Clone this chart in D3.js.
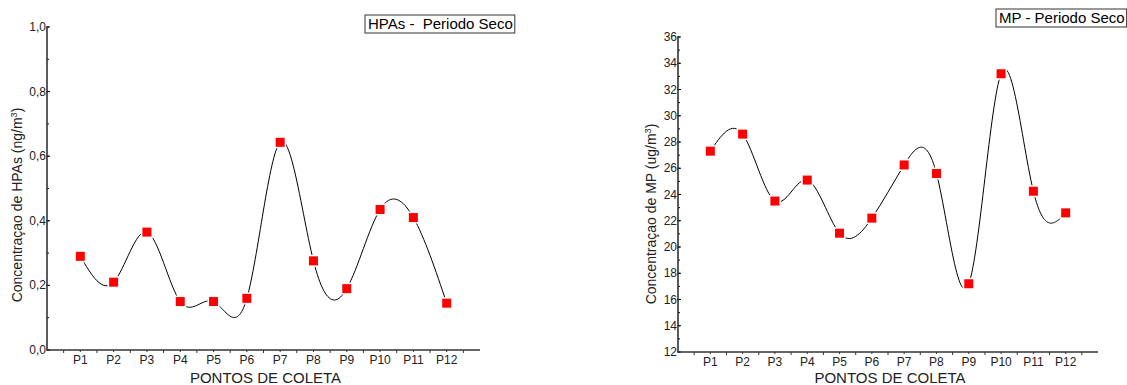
<!DOCTYPE html>
<html>
<head>
<meta charset="utf-8">
<script src="https://cdn.jsdelivr.net/npm/d3@7"></script>
<style>
  html, body { margin: 0; padding: 0; background: #fff; }
  svg { display: block; font-family: "Liberation Sans", Arial, sans-serif; }
</style>
</head>
<body>
<svg id="chart" width="1127" height="385"></svg>
<script>
// Sampling points (shared x categories)
const points = ["P1", "P2", "P3", "P4", "P5", "P6", "P7", "P8", "P9", "P10", "P11", "P12"];

// HPAs concentration, dry period (ng/m³)
const hpaValues = [0.29, 0.21, 0.365, 0.15, 0.15, 0.16, 0.643, 0.276, 0.19, 0.435, 0.41, 0.145];
const hpaTicks = [0, 0.2, 0.4, 0.6, 0.8, 1.0];

// Particulate matter, dry period (ug/m³)
const mpValues = [27.3, 28.6, 23.5, 25.1, 21.05, 22.2, 26.25, 25.6, 17.2, 33.2, 24.25, 22.6];
const mpTicks = [12, 14, 16, 18, 20, 22, 24, 26, 28, 30, 32, 34, 36];

const svg = d3.select("#chart");

function panel(cfg) {
  const g = svg.append("g");
  const x = d3.scaleLinear().domain([0, points.length + 1]).range([cfg.x0, cfg.x1]);
  const y = d3.scaleLinear().domain(cfg.yDomain).range([cfg.yBottom, cfg.yTop]);

  // minor y ticks
  const minorY = d3.range(cfg.yDomain[0], cfg.yDomain[1] + cfg.minorStep / 2, cfg.minorStep);
  g.selectAll(".my").data(minorY).enter().append("line")
    .attr("x1", cfg.x0).attr("x2", cfg.x0 + 2)
    .attr("y1", d => y(d)).attr("y2", d => y(d))
    .attr("stroke", "#000").attr("stroke-width", 1);

  // major y ticks + labels
  g.selectAll(".ty").data(cfg.ticks).enter().append("line")
    .attr("x1", cfg.x0 - 1).attr("x2", cfg.x0 + 3)
    .attr("y1", d => y(d)).attr("y2", d => y(d))
    .attr("stroke", "#000").attr("stroke-width", 1);
  g.selectAll(".ly").data(cfg.ticks).enter().append("text")
    .attr("x", cfg.x0 - 1).attr("y", d => y(d) + 4)
    .attr("text-anchor", "end").attr("font-size", 12).attr("fill", "#222")
    .text(cfg.fmt);

  // x ticks at half-steps
  const xTicks = d3.range(0.5, points.length + 1, 0.5);
  g.selectAll(".tx").data(xTicks).enter().append("line")
    .attr("x1", d => x(d)).attr("x2", d => x(d))
    .attr("y1", cfg.yBottom).attr("y2", d => cfg.yBottom + (Number.isInteger(d) ? 2 : 3))
    .attr("stroke", "#333").attr("stroke-width", 1);
  g.selectAll(".lx").data(points).enter().append("text")
    .attr("x", (d, i) => x(i + 1)).attr("y", cfg.yBottom + 14)
    .attr("text-anchor", "middle").attr("font-size", 12).attr("fill", "#222")
    .text(d => d);

  // axis lines
  g.append("line").attr("x1", cfg.x0).attr("x2", cfg.x0)
    .attr("y1", cfg.yTop).attr("y2", cfg.yBottom)
    .attr("stroke", "#333").attr("stroke-width", 1.6);
  g.append("line").attr("x1", cfg.x0).attr("x2", cfg.x1)
    .attr("y1", cfg.yBottom).attr("y2", cfg.yBottom)
    .attr("stroke", "#333").attr("stroke-width", 1.6);

  // spline through the data
  const line = d3.line()
    .x((d, i) => x(i + 1))
    .y(d => y(d))
    .curve(d3.curveNatural);
  g.append("path").datum(cfg.values)
    .attr("d", line)
    .attr("fill", "none").attr("stroke", "#000").attr("stroke-width", 1);

  // markers with a white gap around them
  g.selectAll(".mk").data(cfg.values).enter().append("rect")
    .attr("x", (d, i) => x(i + 1) - 4.5).attr("y", d => y(d) - 4.5)
    .attr("width", 9).attr("height", 9)
    .attr("fill", "#ff0000")
    .attr("stroke", "#fff").attr("stroke-width", 3)
    .attr("paint-order", "stroke");

  // axis titles
  g.append("text")
    .attr("x", (cfg.x0 + cfg.x1) / 2 + 2).attr("y", 383)
    .attr("text-anchor", "middle").attr("font-size", 15).attr("fill", "#222")
    .text("PONTOS DE COLETA");
  const yt = g.append("text")
    .attr("transform", `translate(${cfg.ytX},${cfg.ytY}) rotate(-90)`)
    .attr("text-anchor", "middle").attr("font-size", 14).attr("fill", "#222");
  yt.append("tspan").text(cfg.yTitle);
  yt.append("tspan").attr("font-size", 9).attr("dy", -5).text("3");
  yt.append("tspan").attr("dy", 5).text(")");

  // title box
  const t = g.append("text")
    .attr("x", cfg.boxX + 3).attr("y", cfg.boxY + 14)
    .attr("font-size", 15).attr("fill", "#000")
    .attr("xml:space", "preserve")
    .text(cfg.title);
  const bb = t.node().getBBox();
  g.insert("rect", "text")
    .attr("x", cfg.boxX).attr("y", cfg.boxY)
    .attr("width", bb.width + 5).attr("height", 18)
    .attr("fill", "#fff").attr("stroke", "#333").attr("stroke-width", 1);
}

panel({
  x0: 47, x1: 480, yTop: 27, yBottom: 350,
  yDomain: [0, 1], ticks: hpaTicks, minorStep: 0.1,
  fmt: d => d3.format(".1f")(d).replace(".", ","),
  values: hpaValues,
  yTitle: "Concentraçao de HPAs (ng/m",
  ytX: 22, ytY: 205,
  title: "HPAs -  Periodo Seco", boxX: 365, boxY: 15
});

panel({
  x0: 678, x1: 1098, yTop: 37, yBottom: 352,
  yDomain: [12, 36], ticks: mpTicks, minorStep: 1,
  fmt: d => d,
  values: mpValues,
  yTitle: "Concentraçao de MP (ug/m",
  ytX: 656, ytY: 214,
  title: "MP - Periodo Seco", boxX: 996, boxY: 9
});
</script>
</body>
</html>
